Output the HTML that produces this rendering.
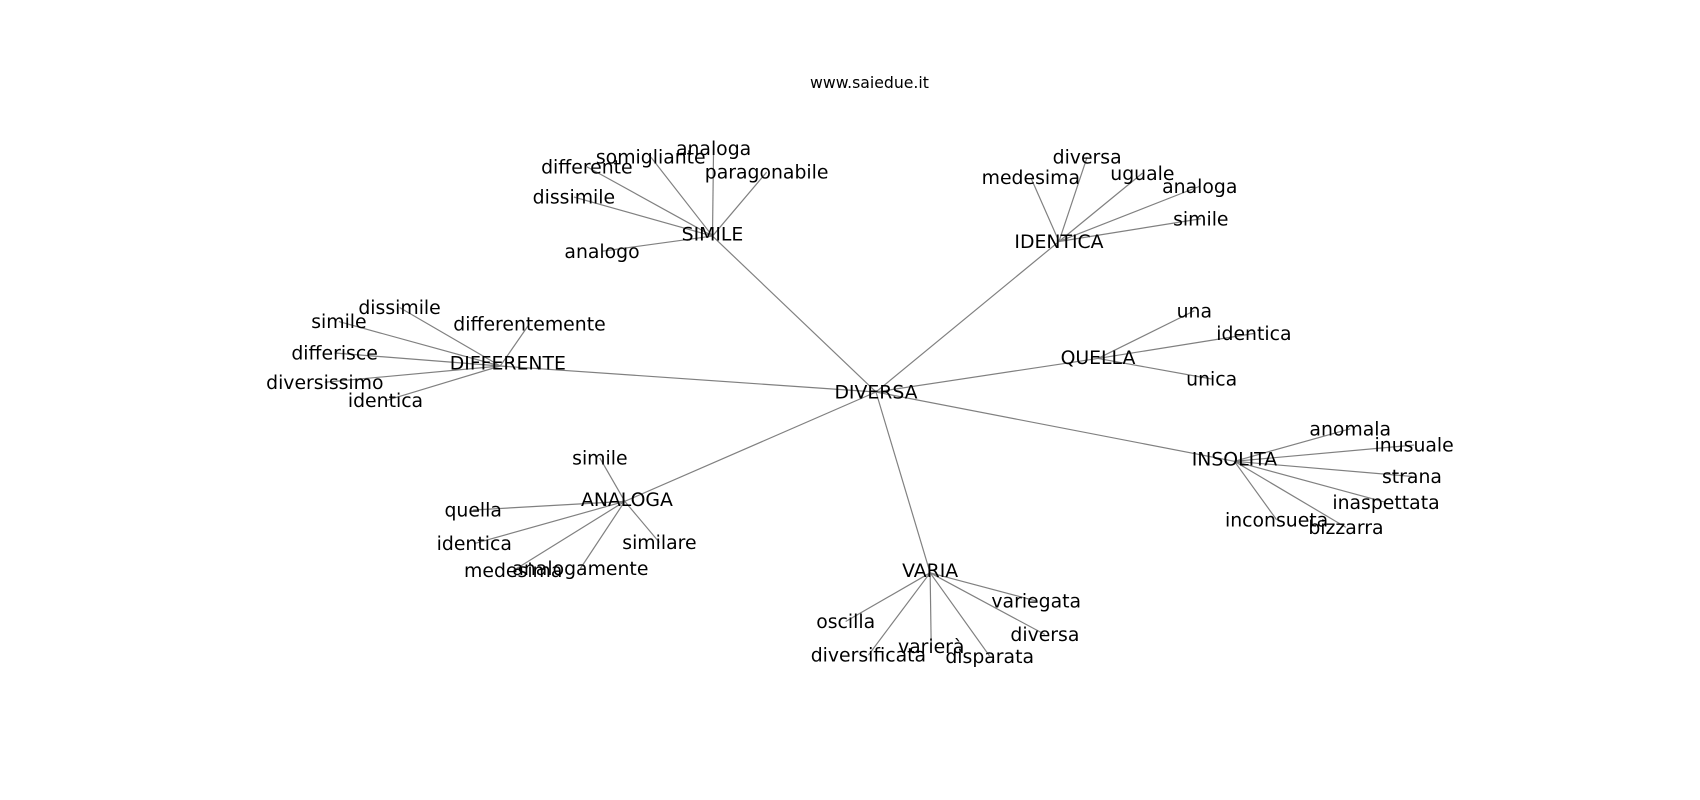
<!DOCTYPE html>
<html><head><meta charset="utf-8"><style>
html,body{margin:0;padding:0;background:#fff;}
svg{display:block}
text{font-family:"DejaVu Sans","Liberation Sans",sans-serif;font-size:17.4px;fill:#000;text-anchor:middle;dominant-baseline:central}
line{stroke:#808080;stroke-width:1.1}
</style></head><body>
<svg width="1700" height="800" viewBox="0 0 1570 738.8" xmlns="http://www.w3.org/2000/svg">
<g id="edges"></g>
<text x="803" y="76" style="font-size:14.5px">www.saiedue.it</text>
<g id="labels"></g>
</svg>
<script>
var hubs={
"DIVERSA":[809,362,[]],
"SIMILE":[658,218,[["analoga",659,137],["paragonabile",708,159],["somigliante",601,145],["differente",542,154],["dissimile",530,182],["analogo",556,232]]],
"IDENTICA":[978,223,[["diversa",1004,145],["medesima",952,164],["uguale",1055,160],["analoga",1108,172],["simile",1109,202]]],
"QUELLA":[1014,331,[["una",1103,287],["identica",1158,308],["unica",1119,350]]],
"INSOLITA":[1140,426,[["anomala",1247,396],["inusuale",1306,411],["strana",1304,440],["inaspettata",1280,464],["bizzarra",1243,487],["inconsueta",1179,480]]],
"VARIA":[859,529,[["variegata",957,555],["diversa",965,586],["disparata",914,606],["varierà",860,597],["diversificata",802,605],["oscilla",781,574]]],
"ANALOGA":[577,463,[["simile",554,423],["quella",437,471],["identica",438,502],["medesima",474,527],["analogamente",536,525],["similare",609,501]]],
"DIFFERENTE":[462,338,[["dissimile",369,284],["simile",313,297],["differentemente",489,299],["differisce",309,326],["diversissimo",300,353],["identica",356,370]]]
};
var NS="http://www.w3.org/2000/svg",E=document.getElementById("edges"),L=document.getElementById("labels");
function ln(a,b,c,d){var l=document.createElementNS(NS,"line");l.setAttribute("x1",a);l.setAttribute("y1",b);l.setAttribute("x2",c);l.setAttribute("y2",d);E.appendChild(l);}
function tx(s,x,y){var t=document.createElementNS(NS,"text");t.setAttribute("x",x);t.setAttribute("y",y+1);t.textContent=s;L.appendChild(t);}
var c=hubs["DIVERSA"];
for(var k in hubs){var h=hubs[k];if(k!=="DIVERSA")ln(c[0],c[1],h[0],h[1]);
 var lx=h[0],ly=h[1];
 if(k==="DIFFERENTE"){lx=469;ly=335;} if(k==="SIMILE"){ly=216;} if(k==="ANALOGA"){lx=579;ly=461;}
 if(k==="INSOLITA"){ly=424;} if(k==="VARIA"){ly=527;} if(k==="QUELLA"){ly=330;}
 tx(k,lx,ly);
 h[2].forEach(function(n){ln(h[0],h[1],n[1],n[2]);tx(n[0],n[1],n[2]);});}
</script>
</body></html>
